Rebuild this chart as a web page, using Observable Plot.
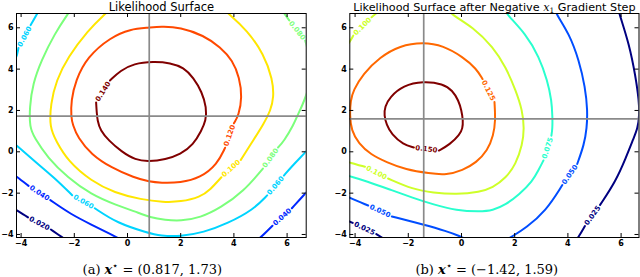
<!DOCTYPE html>
<html><head><meta charset="utf-8">
<script src="https://cdn.jsdelivr.net/npm/d3@7"></script>
<script src="https://cdn.jsdelivr.net/npm/@observablehq/plot@0.6"></script>
<style>
body{margin:0;background:#fff;}
#wrap{display:flex;width:640px;height:277px;overflow:hidden;}
</style></head><body><div id="wrap"></div>
<script>
// ---------- shared ticks ----------
const xTicks = [-4, -2, 0, 2, 4, 6];
const yTicks = [-4, -2, 0, 2, 4, 6];

// ---------- panel (a) ----------
const titleA = "Likelihood Surface";
const captionA = "(a) x⋆ = (0.817, 1.73)";
const optimumA = [0.817, 1.73];
const levelsA = [0.020, 0.040, 0.060, 0.080, 0.100, 0.120, 0.140];
const colorsA = ["#000080", "#0028ff", "#00d4ff", "#7bff7b", "#ffe600", "#ff4900", "#800000"];
// contour points; null = gap holding the inline label
// (a trailing null means the label sits between the last and the first point)
const contourA_020 = [[-4.40,-2.65],[-4.18,-2.81],[-3.74,-3.17],null,[-2.88,-3.76],[-2.44,-4.15],[-2.22,-4.34]];
const contourA_040a = [[-4.40,-1.00],[-4.18,-1.18],[-3.72,-1.65],null,[-2.90,-2.34],[-2.12,-3.03],[-1.36,-3.52],[-0.61,-4.00],[-0.26,-4.24]];
const contourA_040b = [[4.81,-4.32],[5.00,-4.16],[5.45,-3.58],null,[6.18,-2.73],[6.76,-1.91],[6.95,-1.63]];
const contourA_060a = [[-4.40,4.23],[-4.17,4.50],[-4.10,5.02],null,[-3.64,6.13],[-3.35,6.79],[-3.20,7.10]];
const contourA_060b = [[-4.40,0.54],[-4.18,0.32],[-3.50,-0.45],[-2.74,-1.26],[-2.08,-2.10],null,[-1.23,-2.73],[-0.39,-3.45],[0.76,-3.92],[1.24,-4.07],[1.99,-4.10],[2.86,-3.90],[3.76,-3.47],[4.74,-2.79],[5.25,-2.11],null,[5.88,-1.15],[6.24,-0.61],[6.76,0.06],[6.95,0.40]];
const contourA_080 = [[-2.00,7.10],[-2.24,6.68],[-2.74,5.71],[-3.24,4.42],[-3.56,3.29],[-3.68,2.16],[-3.68,1.19],[-3.50,0.68],[-3.00,-0.29],[-2.24,-1.26],[-1.36,-2.07],[-0.49,-2.55],[0.52,-3.00],[0.80,-3.15],[1.43,-3.30],[1.99,-3.35],[2.74,-3.19],[3.50,-2.71],[4.37,-1.91],[5.09,-0.81],null,[5.66,0.21],[5.88,0.51],[6.25,1.32],[6.39,1.76],[6.57,2.24],[6.76,2.87],[6.88,3.50],[6.92,4.10],[6.82,4.75],[6.68,5.38],null,[6.08,6.36],[5.75,6.95]];
const contourA_100 = [[-0.55,7.00],[-0.84,6.68],[-1.49,5.87],[-2.24,4.58],[-2.68,3.45],[-2.89,2.32],[-2.93,1.19],[-2.68,0.51],[-2.24,-0.45],[-1.36,-1.42],[-0.49,-1.98],[0.52,-2.31],[1.35,-2.44],[1.99,-2.42],[2.74,-2.19],[3.12,-1.82],[3.53,-1.23],null,[4.26,-0.39],[4.75,0.60],[5.12,1.35],[5.38,2.00],[5.50,2.64],[5.46,3.50],[5.12,4.74],[4.50,5.87],[3.81,6.68],[3.50,7.00]];
const contourA_120 = [[4.00,1.38],[4.18,1.76],[4.31,2.64],[4.21,3.59],[3.95,4.42],[3.50,5.06],[2.86,5.63],[1.99,6.03],[1.24,6.06],[0.79,6.00],[0.11,5.94],[-0.64,5.54],[-1.52,4.58],[-1.95,3.45],[-2.12,2.48],[-2.12,1.67],[-2.06,1.32],[-1.87,0.68],[-1.36,-0.13],[-0.61,-0.77],[0.26,-1.26],[0.83,-1.45],[1.24,-1.50],[1.99,-1.50],[2.74,-1.26],[3.37,-0.61],[3.67,0.20],null];
const contourA_140 = [[-0.66,3.45],[-0.26,3.93],[0.23,4.27],[0.98,4.37],[1.62,4.30],[2.11,4.08],[2.48,3.59],[2.80,2.89],[2.97,2.14],[2.95,1.51],[2.78,1.03],[2.48,0.35],[1.99,-0.13],[1.43,-0.37],[0.79,-0.47],[0.30,-0.40],[-0.23,0.01],[-0.71,0.55],[-1.02,1.03],[-1.13,1.51],[-1.16,1.95],[-1.18,2.39],null];

// ---------- panel (b) ----------
const titleB = "Likelihood Surface after Negative x₁ Gradient Step";
const captionB = "(b) x⋆ = (−1.42, 1.59)";
const optimumB = [-1.42, 1.59];
const levelsB = [0.025, 0.050, 0.075, 0.100, 0.125, 0.150];
const colorsB = ["#000080", "#004dff", "#29ffce", "#ceff29", "#ff6800", "#800000"];
const contourB_025a = [[5.86,7.08],[5.93,6.68],[6.30,5.23],[6.55,3.61],[6.67,2.48],[6.69,1.76],[6.62,1.13],[6.48,0.69],[6.18,-0.29],[5.80,-1.42],[5.21,-2.57],null,[4.64,-3.59],[4.42,-4.08],[4.25,-4.39]];
const contourB_025b = [[-4.44,-3.25],[-4.09,-3.44],null,[-3.20,-3.98],[-2.82,-4.29]];
const contourB_050a = [[-4.44,-2.07],[-4.20,-2.23],[-3.51,-2.60],null,[-2.62,-3.13],[-1.44,-3.52],[-0.56,-3.84],[-0.06,-4.08],[0.26,-4.29]];
const contourB_050b = [[3.46,7.08],[3.55,6.68],[4.05,5.71],[4.42,4.42],[4.65,3.13],[4.74,2.00],[4.71,1.13],[4.61,0.35],[4.35,-0.59],null,[3.79,-1.61],[3.17,-2.87],[2.42,-3.68],[1.92,-4.08],[1.65,-4.29]];
const contourB_075 = [[1.58,7.03],[1.67,6.68],[2.42,5.71],[2.92,4.58],[3.23,3.45],[3.39,2.48],[3.42,1.67],[3.42,1.13],[3.38,0.78],null,[3.08,-0.42],[2.89,-0.90],[2.67,-1.42],[2.17,-2.07],[1.67,-2.55],[1.17,-2.84],[0.69,-2.89],[-0.19,-2.84],[-1.06,-2.55],[-1.82,-2.23],[-2.70,-1.82],[-3.57,-1.42],[-4.20,-1.18],[-4.44,-1.10]];
const contourB_100a = [[-4.45,4.95],[-4.20,5.30],[-4.07,5.62],null,[-3.38,6.51],[-3.12,6.79],[-2.93,7.03]];
const contourB_100b = [[-4.44,-0.40],[-4.20,-0.53],[-3.63,-0.72],null,[-2.76,-1.29],[-1.82,-1.82],[-1.07,-1.98],[-0.19,-2.07],[0.69,-1.94],[1.17,-1.74],[1.67,-1.26],[2.04,-0.61],[2.29,0.35],[2.36,1.13],[2.29,2.00],[2.04,2.97],[1.67,4.09],[1.19,5.06],[0.44,6.03],[-0.44,6.68],[-0.60,7.08]];
const contourB_125 = [[1.24,2.41],[1.28,1.51],[1.20,0.79],[0.98,0.06],[0.56,-0.52],[0.04,-0.90],[-0.56,-1.12],[-1.20,-1.05],[-2.11,-0.86],[-2.79,-0.52],[-3.42,-0.13],[-3.87,0.40],[-4.14,1.03],[-4.20,1.76],[-4.17,2.48],[-4.07,2.97],[-3.70,3.77],[-3.07,4.58],[-2.32,5.14],[-1.44,5.30],[-0.69,5.14],[0.06,4.58],[0.56,4.02],[0.79,3.52],null];
const contourB_150 = [[-0.85,0.06],[-0.44,0.35],[-0.06,0.84],[0.04,1.13],[0.06,1.51],[0.00,2.00],[-0.11,2.48],[-0.34,2.97],[-0.69,3.29],[-1.44,3.42],[-2.19,3.21],[-2.70,2.64],[-2.88,2.19],[-2.91,1.76],[-2.82,1.32],[-2.63,0.84],[-2.19,0.35],[-1.79,0.21],null];

const contoursA = [[0.020, contourA_020],[0.040, contourA_040a],[0.040, contourA_040b],[0.060, contourA_060a],[0.060, contourA_060b],[0.080, contourA_080],[0.100, contourA_100],[0.120, contourA_120],[0.140, contourA_140]];
const contoursB = [[0.025, contourB_025a],[0.025, contourB_025b],[0.050, contourB_050a],[0.050, contourB_050b],[0.075, contourB_075],[0.100, contourB_100a],[0.100, contourB_100b],[0.125, contourB_125],[0.150, contourB_150]];

function panel(cfg) {
  const W = 320, H = 277;
  const {ml, mr, mt, mb, xDomain, yDomain} = cfg;
  const fw = W - ml - mr, fh = H - mt - mb;
  const kx = fw / (xDomain[1] - xDomain[0]);
  const ky = fh / (yDomain[1] - yDomain[0]);
  const rows = [], labels = [];
  let seg = 0;
  for (const [level, pts] of cfg.contours) {
    let cur = [];
    const pieces = [];
    pts.forEach((p, i) => {
      if (p === null) {
        pieces.push(cur); cur = [];
        const a = pts[i - 1];
        const b = i === pts.length - 1 ? pts[0] : pts[i + 1];
        let ang = Math.atan2(-(b[1] - a[1]) * ky, (b[0] - a[0]) * kx) * 180 / Math.PI;
        if (ang > 90) ang -= 180;
        if (ang < -90) ang += 180;
        labels.push({level, x: (a[0] + b[0]) / 2, y: (a[1] + b[1]) / 2, rotate: ang, text: d3.format(".3f")(level)});
      } else cur.push(p);
    });
    if (cur.length) pieces.push(cur);
    for (const piece of pieces) {
      seg++;
      for (const [x, y] of piece) rows.push({x, y, level, seg});
    }
  }
  const svg = Plot.plot({
    width: W, height: H,
    marginLeft: ml, marginRight: mr, marginTop: mt, marginBottom: mb,
    x: {domain: xDomain},
    y: {domain: yDomain},
    color: {type: "ordinal", domain: cfg.levels, range: cfg.colors},
    style: {fontFamily: "DejaVu Sans", background: "white", color: "black"},
    marks: [
      Plot.line(rows, {x: "x", y: "y", z: "seg", stroke: "level", strokeWidth: 2, curve: "basis", clip: true}),
      Plot.text(labels, {x: "x", y: "y", text: "text", rotate: "rotate", fill: "level", fontSize: 7, fontWeight: "bold", textAnchor: "middle", lineAnchor: "middle"}),
      Plot.ruleX([cfg.optimum[0]], {x: d => d, stroke: "#8a8a8a", strokeWidth: 1.7}),
      Plot.ruleY([cfg.optimum[1]], {y: d => d, stroke: "#8a8a8a", strokeWidth: 1.7}),
      Plot.frame({stroke: "black", strokeWidth: 1}),
      Plot.tickX(xTicks, {x: d => d, insetTop: fh - 4, stroke: "black"}),
      Plot.tickX(xTicks, {x: d => d, insetBottom: fh - 4, stroke: "black"}),
      Plot.tickY(yTicks, {y: d => d, insetRight: fw - 4, stroke: "black"}),
      Plot.tickY(yTicks, {y: d => d, insetLeft: fw - 4, stroke: "black"}),
      Plot.axisX(xTicks, {anchor: "bottom", tickSize: 0, tickPadding: 3, fontSize: 8, fontWeight: "bold", label: null}),
      Plot.axisY(yTicks, {anchor: "left", tickSize: 0, tickPadding: 3, fontSize: 8, fontWeight: "bold", label: null}),
      Plot.text([cfg.title], {text: d => d, frameAnchor: "top", dy: -3, lineAnchor: "bottom", fontSize: cfg.titleSize}),
      Plot.text([cfg.caption], {text: d => d, frameAnchor: "bottom", dx: cfg.capDx, dy: 36, lineAnchor: "bottom", fontSize: 13, fontFamily: "DejaVu Serif"})
    ]
  });
  // typeset the math bits
  const NS = "http://www.w3.org/2000/svg";
  svg.querySelectorAll("text").forEach(t => {
    const s = t.textContent;
    const add = (txt, attrs) => { const ts = document.createElementNS(NS, "tspan"); ts.textContent = txt; for (const k in attrs) ts.setAttribute(k, attrs[k]); t.appendChild(ts); };
    if (s === cfg.caption) {
      const m = s.match(/^(.*?)x⋆(.*)$/);
      t.textContent = "";
      add(m[1], {});
      add("x", {"font-weight": "bold", "font-style": "italic"});
      add("⋆", {"font-size": "10", dy: "-5"});
      add(m[2], {dy: "5"});
    } else if (s === cfg.title && s.includes("x₁")) {
      const [pre, post] = s.split("x₁");
      t.textContent = "";
      add(pre, {});
      add("x", {"font-family": "DejaVu Serif", "font-style": "italic"});
      add("1", {"font-size": "7.5", dy: "2", "font-family": "DejaVu Serif"});
      add(post, {dy: "-2"});
    }
  });
  return svg;
}

const wrap = document.getElementById("wrap");
wrap.appendChild(panel({
  ml: 16, mr: 14.3, mt: 13, mb: 40,
  xDomain: [-4.173, 6.718], yDomain: [-4.146, 6.691],
  contours: contoursA, levels: levelsA, colors: colorsA,
  optimum: optimumA, title: titleA, caption: captionA, capDx: -9, titleSize: 11.5
}));
wrap.appendChild(panel({
  ml: 29.3, mr: 1.5, mt: 13, mb: 40,
  xDomain: [-4.199, 6.673], yDomain: [-4.146, 6.691],
  contours: contoursB, levels: levelsB, colors: colorsB,
  optimum: optimumB, title: titleB, caption: captionB, capDx: -7.6, titleSize: 11.2
}));
</script></body></html>
